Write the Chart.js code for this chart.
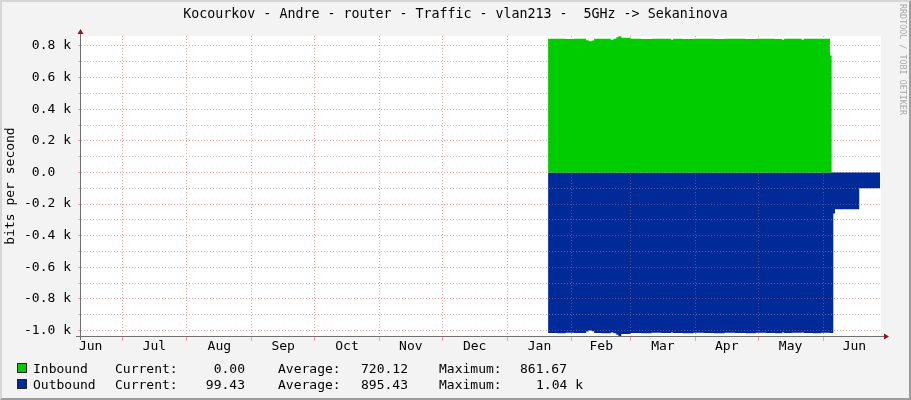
<!DOCTYPE html>
<html>
<head>
<meta charset="utf-8">
<script src="https://cdn.jsdelivr.net/npm/chart.js@4.4.0/dist/chart.umd.min.js"></script>
<style>
  html, body { margin: 0; padding: 0; }
  body { width: 911px; height: 400px; overflow: hidden; background: #f3f3f3; position: relative;
         font-family: "DejaVu Sans Mono", monospace; color: #000; }
  #frame { position: absolute; left: 0; top: 0; width: 907px; height: 396px;
           border-top: 2px solid #d6d6d6; border-left: 2px solid #d6d6d6;
           border-right: 2px solid #9c9c9c; border-bottom: 2px solid #9c9c9c; }
  #chart { position: absolute; left: 0; top: 0; }
  .t { position: absolute; white-space: pre; font-size: 13px; line-height: 15px; }
  #title { position: absolute; left: 0; top: 6px; width: 911px; text-align: center;
           font-size: 13.3px; line-height: 16px; white-space: pre; }
  .box { position: absolute; left: 17px; width: 8px; height: 8px; border: 1px solid #222; }
  #mark { position: absolute; left: 898px; top: 4px; writing-mode: vertical-rl;
          font-size: 8.4px; line-height: 10px; color: #a9a9a9; white-space: pre; }
</style>
</head>
<body>
<div id="frame"></div>
<canvas id="chart" width="911" height="400"></canvas>
<div id="title">Kocourkov - Andre - router - Traffic - vlan213 -  5GHz -&gt; Sekaninova</div>
<div id="mark">RRDTOOL / TOBI OETIKER</div>

<div class="box" style="top:363px;background:#00cc00"></div>
<div class="t" style="left:33px;top:361px">Inbound</div>
<div class="t" style="left:115px;top:361px">Current:</div>
<div class="t" style="left:165px;top:361px;width:80px;text-align:right">0.00</div>
<div class="t" style="left:278px;top:361px">Average:</div>
<div class="t" style="left:328px;top:361px;width:80px;text-align:right">720.12</div>
<div class="t" style="left:439px;top:361px">Maximum:</div>
<div class="t" style="left:520px;top:361px">861.67</div>

<div class="box" style="top:379px;background:#002a97"></div>
<div class="t" style="left:33px;top:377px">Outbound</div>
<div class="t" style="left:115px;top:377px">Current:</div>
<div class="t" style="left:165px;top:377px;width:80px;text-align:right">99.43</div>
<div class="t" style="left:278px;top:377px">Average:</div>
<div class="t" style="left:328px;top:377px;width:80px;text-align:right">895.43</div>
<div class="t" style="left:439px;top:377px">Maximum:</div>
<div class="t" style="left:536px;top:377px">1.04 k</div>

<script>
// x is in days counted from June 1 of the first year
const monthBounds = [0, 30, 61, 92, 122, 153, 183, 214, 245, 273, 304, 334, 365, 395];
const monthNames = ['Jun', 'Jul', 'Aug', 'Sep', 'Oct', 'Nov', 'Dec', 'Jan', 'Feb', 'Mar', 'Apr', 'May', 'Jun'];
const yTicks = [-1000, -900, -800, -700, -600, -500, -400, -300, -200, -100, 0, 100, 200, 300, 400, 500, 600, 700, 800];

const days = [233.6, 238, 242, 246, 251.8, 253, 254.5, 255.6, 259, 263.6,
  264.8, 266.2, 267.2, 268.6, 273, 278, 283, 288, 292.3, 293.4,
  298, 303, 308, 313, 318, 323, 328, 333, 338, 342,
  345.4, 346.4, 350, 354.8, 355.8, 360, 364, 368.3, 369.1, 369.9,
  370.7, 382.3, 392.3];
const inbound = [845, 845, 844, 845, 836, 830, 834, 845, 845, 839,
  845, 855, 862, 852, 845, 844, 845, 845, 840, 845,
  844, 845, 845, 844, 845, 845, 844, 845, 845, 844,
  840, 845, 845, 840, 845, 845, 845, 740, 0, 0,
  0, 0, 0];
const outbound = [-1015, -1016, -1014, -1015, -1006, -999, -1004, -1015, -1016, -1012,
  -1016, -1026, -1034, -1022, -1015, -1016, -1014, -1015, -1012, -1015,
  -1016, -1014, -1015, -1016, -1014, -1015, -1016, -1014, -1015, -1016,
  -1012, -1015, -1014, -1012, -1015, -1016, -1014, -1015, -1015, -260,
  -232, -99, -99];

const xMin = 10.4, xMax = 392.7;
const yMin = -1034, yMax = 863;

const majorGrid = 'rgba(240,140,140,0.8)';
const minorGrid = 'rgba(190,190,190,0.85)';
const font = { family: 'DejaVu Sans Mono', size: 13 };

const labelPos = monthNames.map((m, i) => (monthBounds[i] + monthBounds[i + 1]) / 2);
const gridPos = monthBounds.filter(v => v > xMin && v < xMax);

const rrdLook = {
  id: 'rrdLook',
  beforeDraw(chart) {
    const { ctx, chartArea: a } = chart;
    ctx.save();
    ctx.fillStyle = '#fff';
    ctx.fillRect(a.left, a.top, a.right - a.left, a.bottom - a.top);
    ctx.restore();
  },
  afterDatasetsDraw(chart) {
    // grid shows through the outbound area
    const { ctx, chartArea: a } = chart;
    const zy = chart.scales.y.getPixelForValue(0);
    ctx.save();
    ctx.beginPath();
    ctx.rect(a.left, zy + 1, a.right - a.left, a.bottom - zy - 1);
    ctx.clip();
    ctx.globalAlpha = 0.45;
    chart.scales.x.drawGrid(a);
    chart.scales.y.drawGrid(a);
    ctx.restore();
  },
  afterDraw(chart) {
    const { ctx, chartArea: a } = chart;
    ctx.save();
    ctx.strokeStyle = '#707070';
    ctx.lineWidth = 1;
    ctx.beginPath();
    ctx.moveTo(a.left - 0.5, a.top - 5);
    ctx.lineTo(a.left - 0.5, a.bottom + 4);
    ctx.moveTo(a.left - 5, a.bottom + 0.5);
    ctx.lineTo(a.right + 4, a.bottom + 0.5);
    ctx.stroke();
    ctx.fillStyle = '#8b1a1a';
    ctx.beginPath();
    ctx.moveTo(a.left - 0.5, a.top - 7);
    ctx.lineTo(a.left - 3.5, a.top - 2);
    ctx.lineTo(a.left + 2.5, a.top - 2);
    ctx.closePath();
    ctx.fill();
    ctx.beginPath();
    ctx.moveTo(a.right + 8, a.bottom + 0.5);
    ctx.lineTo(a.right + 3, a.bottom - 2.5);
    ctx.lineTo(a.right + 3, a.bottom + 3.5);
    ctx.closePath();
    ctx.fill();
    ctx.restore();
  }
};

new Chart(document.getElementById('chart'), {
  type: 'line',
  data: {
    datasets: [
      {
        label: 'Inbound',
        data: days.map((d, i) => ({ x: d, y: inbound[i] })),
        backgroundColor: '#00cc00',
        borderColor: '#00cc00',
        borderWidth: 0,
        pointRadius: 0,
        stepped: true,
        fill: 'origin',
      },
      {
        label: 'Outbound',
        data: days.map((d, i) => ({ x: d, y: outbound[i] })),
        backgroundColor: '#002a97',
        borderColor: '#002a97',
        borderWidth: 0,
        pointRadius: 0,
        stepped: true,
        fill: 'origin',
      },
    ],
  },
  options: {
    responsive: false,
    animation: false,
    layout: { padding: { left: 0, right: 30, top: 36, bottom: 36 } },
    plugins: { legend: { display: false }, tooltip: { enabled: false } },
    scales: {
      x: {
        type: 'linear',
        min: xMin,
        max: xMax,
        afterBuildTicks: (scale) => {
          scale.ticks = gridPos.concat(labelPos.filter(v => v > xMin && v < xMax))
            .sort((a, b) => a - b).map(v => ({ value: v }));
        },
        afterFit: (scale) => { scale.height = 28; },
        ticks: {
          autoSkip: false,
          maxRotation: 0,
          padding: -2,
          color: '#000',
          font: font,
          callback: (value) => {
            const i = labelPos.indexOf(value);
            return i >= 0 ? monthNames[i] : '';
          },
        },
        grid: {
          drawTicks: true,
          tickLength: 5,
          color: (c) => (c.tick && gridPos.includes(c.tick.value) ? majorGrid : 'rgba(0,0,0,0)'),
          tickColor: (c) => (c.tick && gridPos.includes(c.tick.value) ? majorGrid : 'rgba(0,0,0,0)'),
        },
        border: { display: false, dash: [1, 2] },
      },
      y: {
        min: yMin,
        max: yMax,
        afterBuildTicks: (scale) => { scale.ticks = yTicks.map(v => ({ value: v })); },
        afterFit: (scale) => { scale.width = 81; },
        title: { display: true, text: 'bits per second', color: '#000', font: font, padding: { top: 3, bottom: 0 } },
        ticks: {
          autoSkip: false,
          padding: 7,
          color: '#000',
          font: font,
          callback: (value) => {
            if (value % 200 !== 0) return '';
            return value === 0 ? '0.0  ' : (value / 1000).toFixed(1) + ' k';
          },
        },
        grid: {
          drawTicks: true,
          tickLength: 3,
          color: (c) => (c.tick && c.tick.value % 200 === 0 ? majorGrid : minorGrid),
          tickColor: (c) => (c.tick && c.tick.value % 200 === 0 ? majorGrid : minorGrid),
        },
        border: { display: false, dash: [1, 2] },
      },
    },
  },
  plugins: [rrdLook],
});
</script>
</body>
</html>
